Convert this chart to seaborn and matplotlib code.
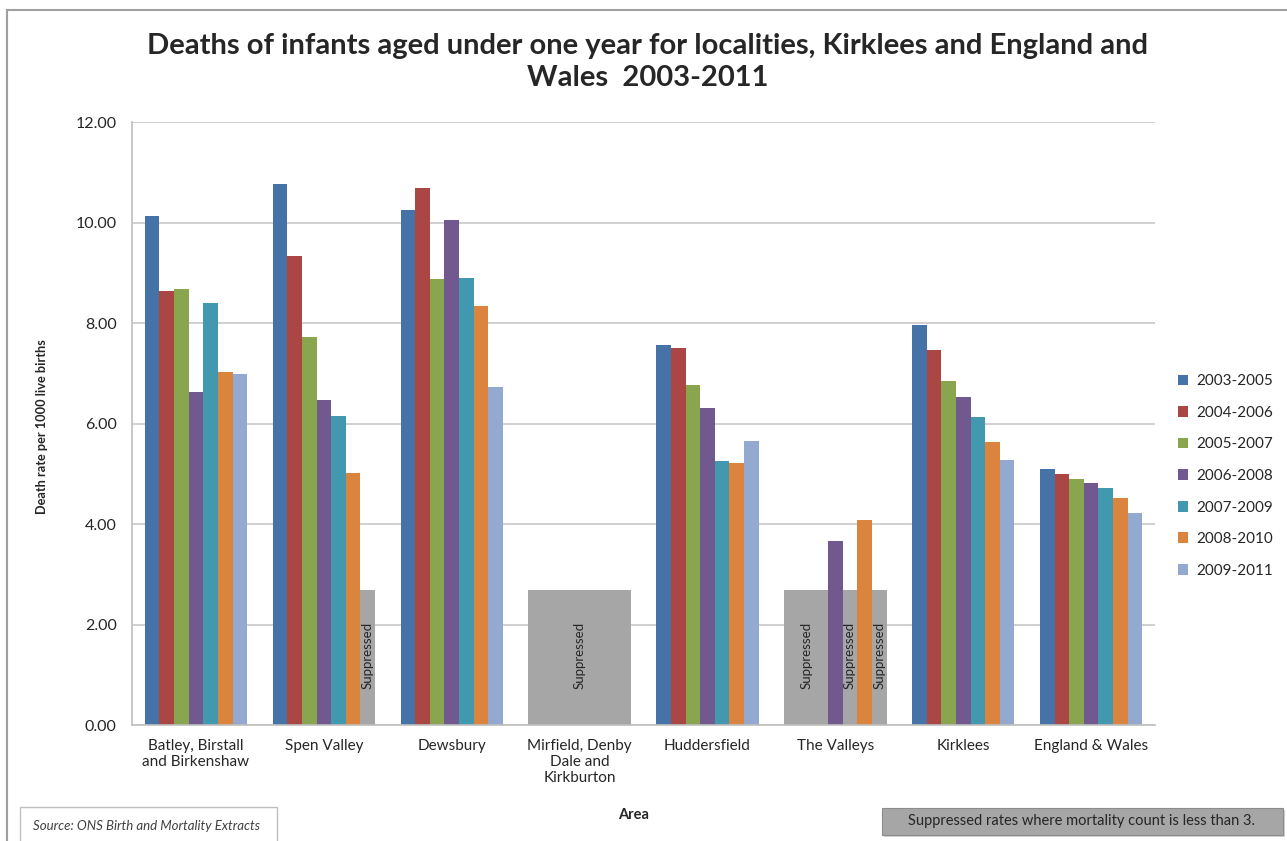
import matplotlib
matplotlib.use("Agg")
import matplotlib.pyplot as plt
import matplotlib.patches as mpatches
import seaborn as sns
import pandas as pd
import numpy as np

areas = ["Batley, Birstall\nand Birkenshaw", "Spen Valley", "Dewsbury",
         "Mirfield, Denby\nDale and\nKirkburton", "Huddersfield", "The Valleys",
         "Kirklees", "England & Wales"]
periods = ["2003-2005", "2004-2006", "2005-2007", "2006-2008",
           "2007-2009", "2008-2010", "2009-2011"]
nan = np.nan

# death rate per 1000 live births, NaN = suppressed
rates_2003_2005 = [10.12, 10.76, 10.25, nan, 7.56, nan, 7.96, 5.10]
rates_2004_2006 = [8.64, 9.33, 10.68, nan, 7.51, nan, 7.46, 4.99]
rates_2005_2007 = [8.68, 7.73, 8.87, nan, 6.77, nan, 6.85, 4.90]
rates_2006_2008 = [6.63, 6.46, 10.05, nan, 6.31, 3.66, 6.53, 4.81]
rates_2007_2009 = [8.39, 6.15, 8.90, nan, 5.26, nan, 6.12, 4.71]
rates_2008_2010 = [7.02, 5.02, 8.34, nan, 5.22, 4.08, 5.63, 4.51]
rates_2009_2011 = [6.98, nan, 6.73, nan, 5.65, nan, 5.27, 4.21]
all_rates = [rates_2003_2005, rates_2004_2006, rates_2005_2007, rates_2006_2008,
             rates_2007_2009, rates_2008_2010, rates_2009_2011]

# grey "suppressed" blocks (area -> periods covered) and where the labels sit
suppressed_height = 2.68
suppressed_blocks = {"Spen Valley": ["2009-2011"],
                     "Mirfield, Denby\nDale and\nKirkburton": periods,
                     "The Valleys": periods}
suppressed_labels = [("Spen Valley", "2009-2011"),
                     ("Mirfield, Denby\nDale and\nKirkburton", "2006-2008"),
                     ("The Valleys", "2004-2006"),
                     ("The Valleys", "2007-2009"),
                     ("The Valleys", "2009-2011")]

colors = ["#4572A7", "#AA4643", "#89A54E", "#71588F", "#4198AF", "#DB843D", "#93A9CF"]

rows = []
for p, vals in zip(periods, all_rates):
    for a, v in zip(areas, vals):
        if not np.isnan(v):
            rows.append({"Area": a, "Period": p, "Rate": v})
df = pd.DataFrame(rows)

sup_rows = []
for a, ps in suppressed_blocks.items():
    for p in ps:
        sup_rows.append({"Area": a, "Period": p, "Rate": suppressed_height})
sup_df = pd.DataFrame(sup_rows)

sns.set_theme(style="white")
plt.rcParams["font.family"] = ["Lato", "DejaVu Sans"]

fig = plt.figure(figsize=(12.87, 8.41), dpi=100)
ax = fig.add_axes([0.1026, 0.1379, 0.7949, 0.717])

bar_w = 0.8
sns.barplot(data=sup_df, x="Area", y="Rate", hue="Period", order=areas, hue_order=periods,
            palette={p: "#A6A6A6" for p in periods}, saturation=1, width=bar_w, linewidth=0,
            legend=False, zorder=1, ax=ax)
sns.barplot(data=df, x="Area", y="Rate", hue="Period", order=areas, hue_order=periods,
            palette=colors, saturation=1, width=bar_w, linewidth=0, zorder=2, ax=ax)

for a, p in suppressed_labels:
    x = areas.index(a) + (periods.index(p) - (len(periods) - 1) / 2) * bar_w / len(periods)
    ax.text(x, 1.38, "Suppressed", rotation=90, ha="center", va="center",
            fontsize=9.5, color="#262626", zorder=3)

ax.set_ylim(0, 12)
ax.set_xlim(-0.5, len(areas) - 0.5)
ax.set_yticks(np.arange(0, 12.1, 2))
ax.set_yticklabels([f"{v:.2f}" for v in np.arange(0, 12.1, 2)])
ax.yaxis.grid(True, color="#C8C8C8", linewidth=1.2)
ax.set_axisbelow(True)
ax.tick_params(axis="y", length=5, color="#BFBFBF", labelsize=11.5, labelcolor="#262626", pad=6)
ax.tick_params(axis="x", length=0, labelsize=11, labelcolor="#262626", pad=10)
for s in ["top", "right"]:
    ax.spines[s].set_visible(False)
for s in ["left", "bottom"]:
    ax.spines[s].set_color("#BFBFBF")
    ax.spines[s].set_linewidth(1.2)
ax.set_xlabel("")
ax.set_ylabel("")

handles, labels = ax.get_legend_handles_labels()
ax.legend(handles, labels, loc="center left", bbox_to_anchor=(1.022, 0.413),
          frameon=False, fontsize=11, handlelength=0.7, handleheight=0.7,
          handletextpad=0.5, labelspacing=1.15, borderaxespad=0, borderpad=0)

fig.text(0.503, 1 - 62 / 841,
         "Deaths of infants aged under one year for localities, Kirklees and England and\nWales  2003-2011",
         ha="center", va="center", fontsize=21, fontweight="bold", linespacing=1.25)
fig.text(42 / 1287, 1 - 427 / 841, "Death rate per 1000 live births", rotation=90,
         ha="center", va="center", fontsize=9.2, fontweight="bold")
fig.text(634 / 1287, 1 - 815 / 841, "Area", ha="center", va="center",
         fontsize=10.5, fontweight="bold")

# outer chart frame
fig.add_artist(mpatches.Rectangle((7 / 1287, -0.02), 1.05, 1 - 10 / 841 + 0.02,
                                  transform=fig.transFigure, fill=False,
                                  edgecolor="#A0A0A0", linewidth=1.5))
# source note
fig.add_artist(mpatches.Rectangle((20 / 1287, -0.02), 257 / 1287, 1 - 807 / 841 + 0.02,
                                  transform=fig.transFigure, facecolor="white",
                                  edgecolor="#BFBFBF", linewidth=1))
fig.text(33 / 1287, 1 - 826 / 841, "Source: ONS Birth and Mortality Extracts",
         ha="left", va="center", fontsize=9.5, fontstyle="italic", color="#404040")
# suppressed note
fig.add_artist(mpatches.Rectangle((884 / 1287, 1 - 837 / 841), 401 / 1287, 27 / 841,
                                  transform=fig.transFigure, facecolor="#D0D0D0",
                                  edgecolor="none"))
fig.add_artist(mpatches.Rectangle((882 / 1287, 1 - 835 / 841), 401 / 1287, 27 / 841,
                                  transform=fig.transFigure, facecolor="#A6A6A6",
                                  edgecolor="#8C8C8C", linewidth=0.8))
fig.text(1082 / 1287, 1 - 821 / 841, "Suppressed rates where mortality count is less than 3.",
         ha="center", va="center", fontsize=10.5, color="#262626")

fig.savefig("out.png", dpi=100)
